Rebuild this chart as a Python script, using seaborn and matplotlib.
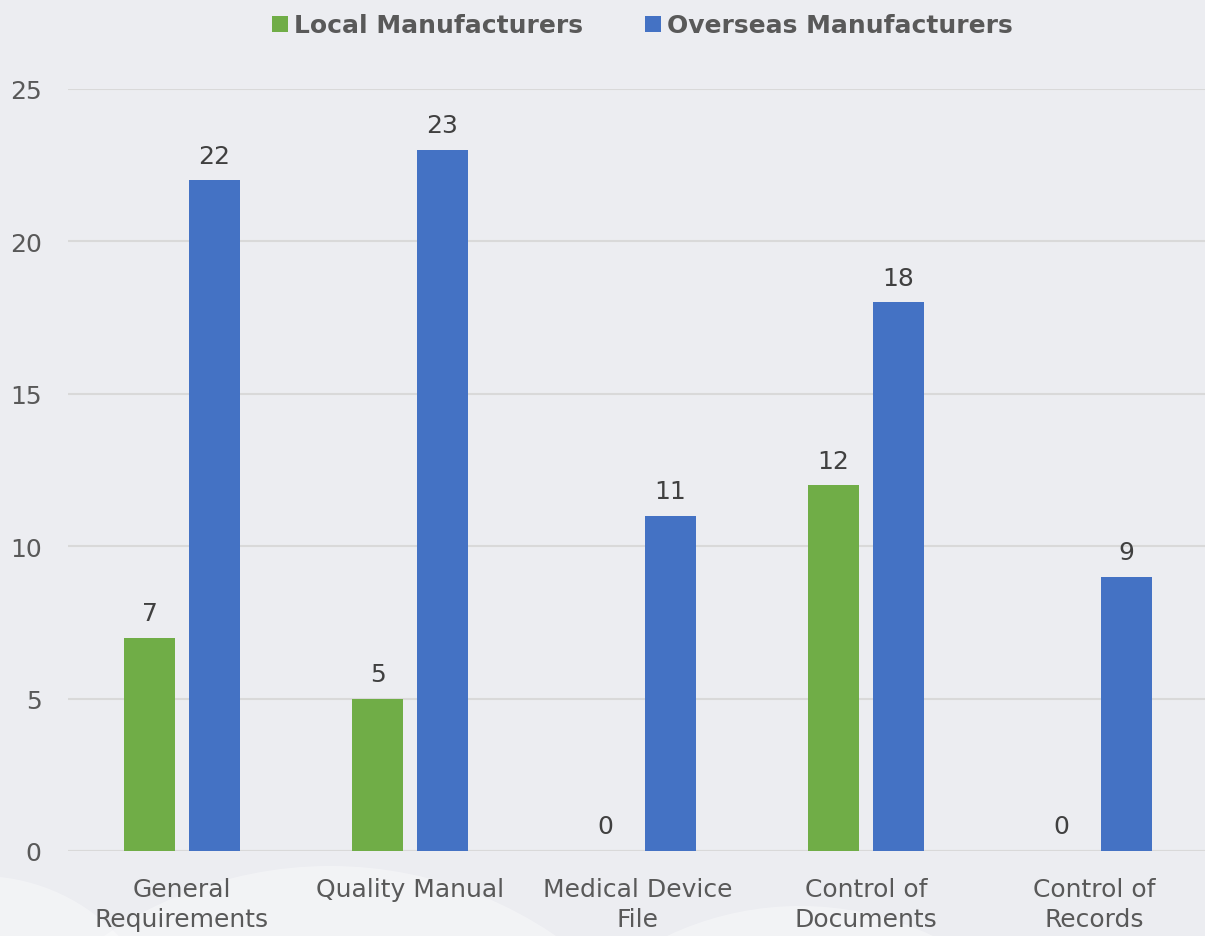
import matplotlib
matplotlib.use("Agg")
import matplotlib.pyplot as plt
import seaborn as sns
import pandas as pd
from matplotlib.patches import Circle

CATEGORIES = ["General\nRequirements", "Quality Manual", "Medical Device\nFile",
              "Control of\nDocuments", "Control of\nRecords"]
LOCAL = [7, 5, 0, 12, 0]
OVERSEAS = [22, 23, 11, 18, 9]
SERIES = ["Local Manufacturers", "Overseas Manufacturers"]
COLORS = {"Local Manufacturers": "#70AD47", "Overseas Manufacturers": "#4472C4"}
BG = "#ECEDF1"

df = pd.DataFrame({
    "category": CATEGORIES * 2,
    "series": [SERIES[0]] * len(CATEGORIES) + [SERIES[1]] * len(CATEGORIES),
    "value": LOCAL + OVERSEAS,
})

sns.set_theme(style="white")
plt.rcParams["font.family"] = ["DejaVu Sans"]

fig = plt.figure(figsize=(12.05, 9.37), dpi=100, facecolor=BG)

# faint decorative circles behind the chart (pixel coords)
for cx, cy, r in [(-20, -130, 190), (330, -330, 400), (800, -280, 310), (1190, -190, 190)]:
    fig.patches.append(Circle((cx, cy), r, transform=None, facecolor="white",
                              alpha=0.35, edgecolor="none", zorder=-5))

ax = fig.add_axes([68 / 1205, 85 / 937, 1137 / 1205, 762 / 937])
ax.set_facecolor("none")

sns.barplot(data=df, x="category", y="value", hue="series", palette=COLORS,
            width=0.57, gap=0.215, saturation=1, linewidth=0, ax=ax, zorder=3)

for cont in ax.containers:
    ax.bar_label(cont, labels=[f"{int(v)}" for v in cont.datavalues], padding=9,
                 fontsize=18, color="#404040")

ax.set_ylim(0, 25)
ax.set_xlim(-0.5, 4.487)
ax.set_yticks(range(0, 26, 5))
ax.yaxis.grid(True, color="#D9D9D9", linewidth=1.5, zorder=0)
ax.set_axisbelow(True)
for s in ax.spines.values():
    s.set_visible(False)
ax.axhline(0, color="#D9D9D9", linewidth=1.5, zorder=1)
ax.set_xlabel("")
ax.set_ylabel("")
ax.tick_params(axis="both", length=0, labelsize=18, colors="#595959")
ax.tick_params(axis="y", pad=19)
ax.tick_params(axis="x", pad=19)
for t in ax.get_xticklabels():
    t.set_linespacing(1.3)

leg = ax.legend(loc="upper center", bbox_to_anchor=(0.5 + 6 / 1137, 1 + 98 / 762), ncol=2,
                frameon=False, handlelength=0.62, handleheight=0.62,
                handletextpad=0.25, columnspacing=2.5,
                prop={"weight": "bold", "size": 18})
for t in leg.get_texts():
    t.set_color("#595959")

fig.savefig("out.png", dpi=100, facecolor=BG)
